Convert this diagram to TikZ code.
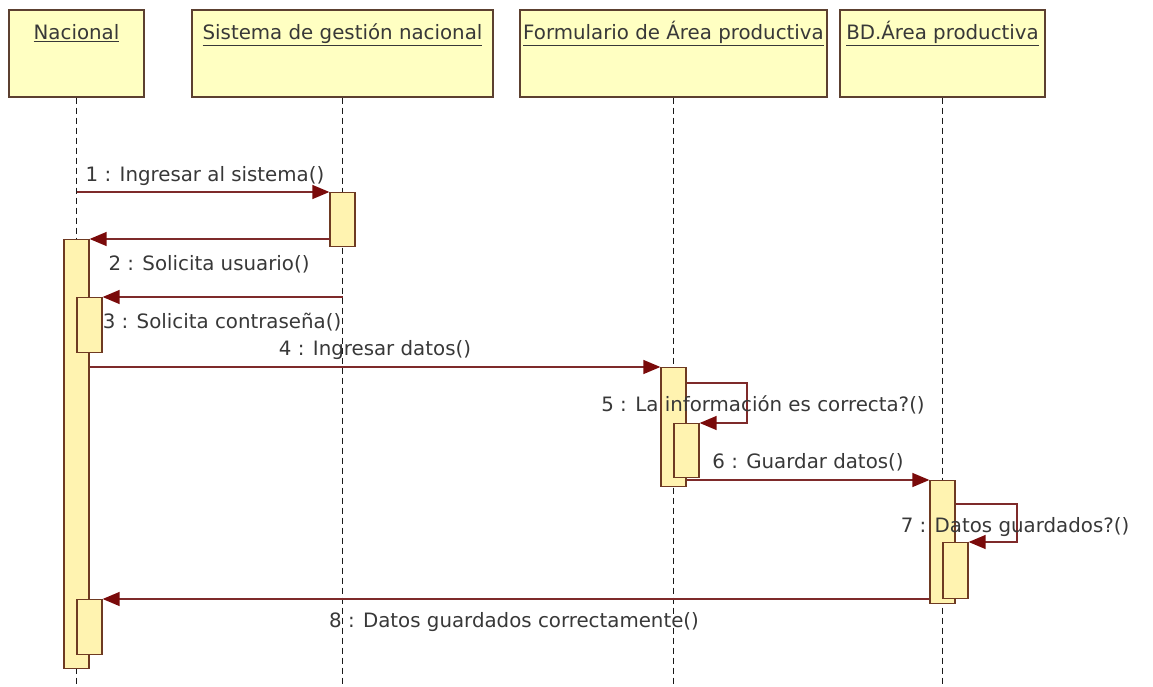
\documentclass[tikz,border=0pt]{standalone}
\usepackage{fontspec}
\setmainfont{DejaVu Sans}
\usetikzlibrary{arrows.meta}
\definecolor{objfill}{HTML}{FFFFC2}
\definecolor{objline}{HTML}{5C4030}
\definecolor{actfill}{HTML}{FFF3B0}
\definecolor{actline}{HTML}{6E3A22}
\definecolor{msgline}{HTML}{7E2A2A}
\definecolor{msgtip}{HTML}{7A0A0A}
\definecolor{txt}{HTML}{383838}
\begin{document}
\begin{tikzpicture}[x=1pt,y=-1pt,font=\fontsize{19.8}{22}\selectfont]
    \tikzstyle{obj}=[draw=objline,fill=objfill,line width=1.6pt,anchor=north,minimum height=87pt,inner ysep=0pt,text height=30pt,text depth=57pt,text=txt]
    \tikzstyle{life}=[draw=black!90,line width=1.5pt,dash pattern=on 6pt off 4pt]
    \tikzstyle{act}=[draw=actline,fill=actfill,line width=1.3pt,anchor=north,minimum width=25pt,inner sep=0pt]
    \tikzstyle{msg}=[draw=msgline,line width=1.4pt,-{Triangle[length=17pt,width=14pt,color=msgtip]}]
    \tikzstyle{lbl}=[inner sep=0pt,text=txt]
    \useasboundingbox (0,0) rectangle (1153,687);
    \node[obj,minimum width=135pt] (nac) at (76.5,9) {\underline{Nacional}};
    \node[obj,minimum width=301pt] (sis) at (342.5,9) {\underline{Sistema de gestión nacional}};
    \node[obj,minimum width=305pt] (form) at (673.5,9) {\underline{Formulario de Área productiva}};
    \node[obj,minimum width=205pt] (bd) at (942.5,9) {\underline{BD.Área productiva}};
    \coordinate (nacE) at (76.5,687);
    \coordinate (sisE) at (342.5,687);
    \coordinate (formE) at (673.5,687);
    \coordinate (bdE) at (942.5,687);
    \draw[life] (nac.south) -- (nacE);
    \draw[life] (sis.south) -- (sisE);
    \draw[life] (form.south) -- (formE);
    \draw[life] (bd.south) -- (bdE);
    \node[act,minimum height=54pt] (sA1) at (342.5,192) {};
    \node[act,minimum height=429pt] (nA1) at (76.5,239) {};
    \node[act,minimum height=55pt] (nA2) at (89.5,297) {};
    \node[act,minimum height=55pt] (nA3) at (89.5,599) {};
    \node[act,minimum height=119pt] (fA1) at (673.5,367) {};
    \node[act,minimum height=54pt] (fA2) at (686.5,423) {};
    \node[act,minimum height=123pt] (bA1) at (942.5,480) {};
    \node[act,minimum height=56pt] (bA2) at (955.5,542) {};
    \coordinate (m1) at (76.5,192);
    \coordinate (m2) at (330,239);
    \coordinate (m3) at (342.5,297);
    \coordinate (l5a) at (747,383);
    \coordinate (l5b) at (747,423);
    \coordinate (l7a) at (1017,504);
    \coordinate (l7b) at (1017,542);
    \draw[msg] (m1) -- (sA1.north west);
    \draw[msg] (m2) -- (nA1.north east);
    \draw[msg] (m3) -- (nA2.north east);
    \draw[msg] (nA1.east |- fA1.north) -- (fA1.north west);
    \draw[msg] (fA1.east |- l5a) -- (l5a) -- (l5b) -- (fA2.north east);
    \draw[msg] (fA1.east |- bA1.north) -- (bA1.north west);
    \draw[msg] (bA1.east |- l7a) -- (l7a) -- (l7b) -- (bA2.north east);
    \draw[msg] (bA1.west |- nA3.north) -- (nA3.north east);
    \node[lbl] (t1) at (205,176) {1 : Ingresar al sistema()};
    \node[lbl] (t2) at (209,264) {2 : Solicita usuario()};
    \node[lbl] (t3) at (222,322) {3 : Solicita contraseña()};
    \node[lbl] (t4) at (375,350) {4 : Ingresar datos()};
    \node[lbl] (t5) at (763,405) {5 : La información es correcta?()};
    \node[lbl] (t6) at (808,462) {6 : Guardar datos()};
    \node[lbl] (t7) at (1015,527) {7 : Datos guardados?()};
    \node[lbl] (t8) at (514,622) {8 : Datos guardados correctamente()};
  \end{tikzpicture}
\end{document}
